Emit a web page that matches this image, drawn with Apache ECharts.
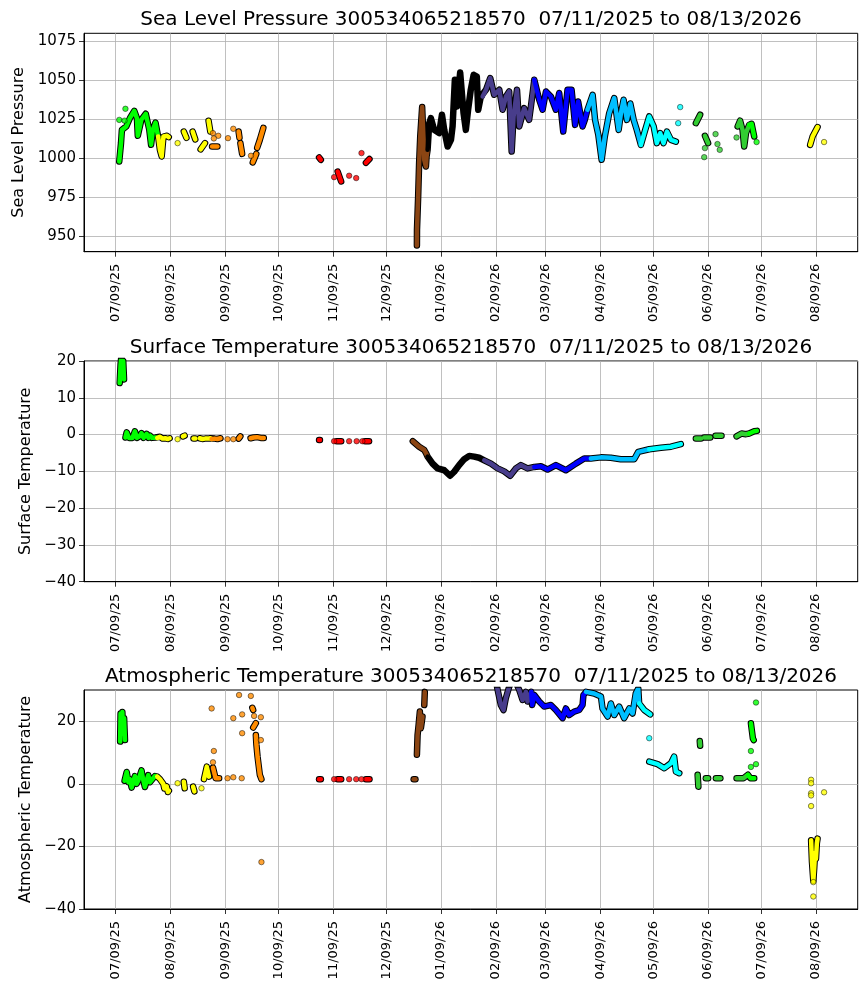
<!DOCTYPE html>
<html><head><meta charset="utf-8">
<script src="https://cdn.jsdelivr.net/npm/echarts@6/dist/echarts.min.js"></script>
<style>html,body{margin:0;padding:0;background:#fff}#c{width:867px;height:992px}</style>
</head><body><div id="c"></div>
<script>
const stationId = '300534065218570';
const dateRange = '07/11/2025 to 08/13/2026';
const panelNames = ['Sea Level Pressure', 'Surface Temperature', 'Atmospheric Temperature'];
const xTickDates = ['2025-07-09','2025-08-09','2025-09-09','2025-10-09','2025-11-09','2025-12-09','2026-01-09','2026-02-09','2026-03-09','2026-04-09','2026-05-09','2026-06-09','2026-07-09','2026-08-09'];
const slpTicks = [950, 975, 1000, 1025, 1050, 1075];
const sstTicks = [-40, -30, -20, -10, 0, 10, 20];
const atTicks = [-40, -20, 0, 20];

// Sea level pressure: dense traces (null = gap) and isolated points
const slpTrace = [
 ['2025-07-11 00',997.8],['2025-07-12 00',1009.6],['2025-07-12 12',1018.1],['2025-07-15 00',1020.3],['2025-07-17 00',1025.6],['2025-07-19 12',1030.3],['2025-07-21 00',1025.6],['2025-07-21 12',1014.3],['2025-07-23 12',1024.6],['2025-07-26 00',1028.4],['2025-07-28 00',1018.1],['2025-07-29 00',1008.5],['2025-07-30 00',1018.1],['2025-07-31 12',1022.8],['2025-08-02 00',1013.8],['2025-08-03 00',1005.3],['2025-08-04 00',1001],['2025-08-05 00',1013.8],['2025-08-07 00',1014.3],['2025-08-08 00',1013.5],
 null,['2025-08-16 12',1017],['2025-08-18 00',1013],
 null,['2025-08-21 12',1017],['2025-08-23 00',1012],
 null,['2025-08-26 00',1005.6],['2025-08-28 12',1009.6],
 null,['2025-08-30 12',1024],['2025-08-31 12',1017],
 null,['2025-09-01 12',1007.4],['2025-09-04 12',1007.4],
 null,['2025-09-16 12',1017],['2025-09-17 00',1013],
 null,['2025-09-17 12',1009.6],['2025-09-18 12',1002.7],
 null,['2025-09-24 12',997.2],['2025-09-26 12',1002.7],
 null,['2025-09-27 00',1006.6],['2025-09-28 12',1011.7],['2025-09-30 12',1019.4],
 null,['2025-11-01 00',1000.4],['2025-11-02 00',998.9],
 null,['2025-11-11 12',991.4],['2025-11-13 12',985],
 null,['2025-11-27 12',997],['2025-11-29 12',999.4],
 null,['2025-12-26 08',944],['2025-12-26 09',954],['2025-12-27 01',975.4],['2025-12-27 14',996.8],['2025-12-28 05',1013.8],['2025-12-29 07',1032.7],['2025-12-30 02',1011.7],['2025-12-30 11',998.9],['2025-12-31 10',994.6],['2025-12-31 19',1001],
 ['2026-01-01 09',1005.3],['2026-01-02 07',1022.4],['2026-01-03 05',1025.6],['2026-01-05 02',1018.1],['2026-01-07 22',1016],['2026-01-09 12',1027.8],['2026-01-10 19',1018],['2026-01-12 17',1007.4],['2026-01-14 14',1011.7],['2026-01-15 12',1020.3],['2026-01-16 19',1050.2],['2026-01-17 22',1033],['2026-01-19 19',1054.9],['2026-01-21 17',1028.8],['2026-01-23 00',1018.1],['2026-01-24 07',1031],['2026-01-25 19',1043.8],['2026-01-27 10',1053.4],['2026-01-29 05',1052.3],['2026-01-30 00',1031],['2026-01-31 12',1039.5],
 ['2026-02-01 12',1039.5],['2026-02-03 12',1044],['2026-02-05 19',1051.3],['2026-02-08 00',1040.6],['2026-02-10 22',1043.8],['2026-02-12 19',1031],['2026-02-14 17',1039.5],['2026-02-16 12',1042.7],['2026-02-17 22',1004.2],['2026-02-19 00',1026.7],['2026-02-20 22',1043.8],['2026-02-22 05',1020.3],['2026-02-25 00',1032],['2026-02-27 19',1024.5],['2026-02-28 19',1033],
 ['2026-03-02 17',1050.2],['2026-03-05 12',1037.4],['2026-03-07 10',1031],['2026-03-09 07',1042.7],['2026-03-12 02',1039.5],['2026-03-14 22',1031],['2026-03-16 19',1041.7],['2026-03-19 02',1017],['2026-03-21 12',1043.8],['2026-03-23 19',1043.8],['2026-03-25 19',1021.3],['2026-03-27 12',1036.3],['2026-03-30 00',1020.3],['2026-03-31 07',1024.5],
 ['2026-04-01 19',1031],['2026-04-04 17',1040.6],['2026-04-06 02',1024.5],['2026-04-07 22',1015],['2026-04-09 19',998.9],['2026-04-11 14',1013.8],['2026-04-14 02',1028.8],['2026-04-16 22',1038.5],['2026-04-19 10',1018.1],['2026-04-20 17',1028.8],['2026-04-22 05',1037.4],['2026-04-24 02',1024.5],['2026-04-26 00',1035],['2026-04-27 22',1024.5],['2026-04-29 17',1018],
 ['2026-05-02 00',1008.5],['2026-05-04 10',1018],['2026-05-06 17',1026.7],['2026-05-09 05',1020.3],['2026-05-11 00',1009.6],['2026-05-12 22',1016],['2026-05-14 19',1009.6],['2026-05-16 17',1017],['2026-05-19 00',1011.7],['2026-05-21 19',1010.6],
 null,['2026-06-02 02',1022.4],['2026-06-04 12',1027.8],
 null,['2026-06-07 05',1014.3],['2026-06-09 00',1009.6],
 null,['2026-06-25 17',1020.3],['2026-06-27 02',1024],['2026-06-28 12',1018],['2026-06-29 10',1007.4],['2026-06-30 10',1016],['2026-07-02 05',1021.3],['2026-07-03 14',1022],['2026-07-05 02',1013.8],
 null,['2026-08-05 17',1008.5],['2026-08-07 02',1013.8],['2026-08-09 22',1019.9]
];
const slpPoints = [
 ['2025-07-11 00',1024.5],['2025-07-14 12',1031.6],['2025-07-14 00',1024],['2025-08-13 00',1009.6],['2025-09-02 00',1016],['2025-09-05 00',1014.3],['2025-09-02 12',1012.6],['2025-09-10 12',1012.8],['2025-09-13 12',1018.8],['2025-09-23 12',1001.5],
 ['2025-11-09 12',987.8],['2025-11-18 00',988.7],['2025-11-22 00',987.2],['2025-11-25 00',1003.2],['2026-05-23 02',1022.4],['2026-05-24 05',1032.7],
 ['2026-06-06 19',1000.6],['2026-06-07 05',1006.4],['2026-06-13 05',1015.4],['2026-06-14 07',1009],['2026-06-15 14',1005.3],['2026-06-25 02',1013.2],['2026-07-06 10',1010.3],['2026-08-13 14',1010.3]
];

// Surface temperature
const sstTrace = [
 ['2025-07-11 06',14.0],['2025-07-11 18',19],['2025-07-12 06',21.5],['2025-07-12 18',16.5],['2025-07-13 06',20],['2025-07-13 17',15],
 null,['2025-07-14 12',-0.8],['2025-07-15 05',0.6],['2025-07-16 12',-0.9],['2025-07-17 12',-0.4],['2025-07-18 12',-0.9],['2025-07-19 20',0.9],['2025-07-21 00',-0.9],['2025-07-22 12',-0.5],['2025-07-23 14',0.4],['2025-07-24 18',-0.9],['2025-07-26 12',0.2],['2025-07-27 12',-0.9],['2025-07-28 12',-0.3],['2025-07-29 12',-0.9],['2025-07-30 12',-0.6],['2025-07-31 12',-0.8],['2025-08-01 12',-0.9],['2025-08-03 00',-0.6],['2025-08-04 12',-1.1],['2025-08-06 00',-1.0],['2025-08-07 12',-1.2],['2025-08-08 12',-1.0],
 null,['2025-08-16 00',-0.5],['2025-08-17 00',-0.3],
 null,['2025-08-22 00',-1.1],['2025-08-23 00',-1.1],
 null,['2025-08-25 12',-1.0],['2025-08-27 00',-1.2],['2025-08-28 12',-1.1],['2025-08-30 00',-1.1],['2025-08-31 12',-1.0],['2025-09-01 06',-1.2],['2025-09-03 00',-1.1],['2025-09-04 12',-1.2],['2025-09-06 06',-1.0],
 null,['2025-09-16 12',-1.1],['2025-09-17 12',-0.5],
 null,['2025-09-23 06',-1.0],['2025-09-25 00',-0.8],['2025-09-27 00',-0.7],['2025-09-29 00',-0.9],['2025-09-30 18',-0.9],
 null,['2025-11-01 00',-1.5],['2025-11-01 12',-1.5],
 null,['2025-11-11 00',-1.8],['2025-11-13 12',-1.8],
 null,['2025-11-27 00',-1.8],['2025-11-29 06',-1.8],
 null,['2025-12-24 00',-1.8],['2025-12-27 14',-3.3],['2025-12-30 12',-4.2],['2025-12-31 10',-5.0],['2026-01-01 09',-6.0],['2026-01-04 05',-7.9],['2026-01-07 00',-9.2],['2026-01-10 19',-9.7],['2026-01-14 02',-11.2],['2026-01-16 10',-10.1],['2026-01-19 05',-8.3],['2026-01-22 02',-6.7],['2026-01-24 22',-5.8],['2026-01-27 17',-6.0],['2026-01-30 12',-6.3],
 ['2026-02-02 10',-7.0],['2026-02-06 05',-7.9],['2026-02-10 00',-9.2],['2026-02-13 17',-10],['2026-02-17 02',-11.2],['2026-02-20 07',-9.2],['2026-02-23 02',-8.3],['2026-02-26 22',-9.2],
 ['2026-03-02 17',-8.8],['2026-03-06 10',-8.6],['2026-03-10 05',-9.5],['2026-03-14 22',-8.3],['2026-03-20 14',-9.7],['2026-03-26 05',-7.9],['2026-03-30 22',-6.5],
 ['2026-04-03 17',-6.5],['2026-04-09 10',-6.2],['2026-04-15 00',-6.3],['2026-04-20 14',-6.7],['2026-04-28 05',-6.7],['2026-04-30 12',-4.7],
 ['2026-05-06 17',-4.0],['2026-05-13 07',-3.6],['2026-05-19 00',-3.3],['2026-05-24 14',-2.6],
 null,['2026-06-02 02',-1.1],['2026-06-05 00',-1.1],
 null,['2026-06-06 19',-0.8],['2026-06-10 05',-0.8],
 null,['2026-06-13 05',-0.3],['2026-06-16 14',-0.3],
 null,['2026-06-25 02',-0.5],['2026-06-27 22',0.3],['2026-06-30 10',0.1],['2026-07-02 05',0.3],['2026-07-05 02',0.9],['2026-07-06 14',1.0]
];
const sstPoints = [
 ['2025-08-13 00',-1.25],['2025-09-10 06',-1.25],['2025-09-13 12',-1.25],['2025-11-09 12',-1.8],['2025-11-18 00',-1.8],['2025-11-22 06',-1.8],['2025-11-25 12',-1.8]
];

// Atmospheric temperature
const atTrace = [
 ['2025-07-11 12',13.5],['2025-07-11 18',22.5],['2025-07-12 06',19],['2025-07-12 18',23],['2025-07-13 06',16],['2025-07-13 18',21],['2025-07-14 06',14],
 null,['2025-07-14 00',1.0],['2025-07-15 05',3.8],['2025-07-16 06',0.5],['2025-07-17 00',1.5],['2025-07-18 00',-1.2],['2025-07-19 20',2.5],['2025-07-20 18',0.0],['2025-07-21 17',1.0],['2025-07-23 14',4.3],['2025-07-24 12',1.5],['2025-07-25 12',-1.0],['2025-07-27 10',2.8],['2025-07-28 08',0.5],['2025-07-29 07',0.0],['2025-07-31 05',2.5],['2025-08-01 12',2.3],['2025-08-03 00',1.5],['2025-08-04 22',0.0],['2025-08-05 12',-1.5],['2025-08-06 20',-0.8],['2025-08-07 12',-2.6],['2025-08-08 02',-2.2],
 null,['2025-08-16 12',0.7],['2025-08-17 00',-1.4],
 null,['2025-08-21 18',-0.9],['2025-08-22 12',-2.4],
 null,['2025-08-27 22',1.5],['2025-08-29 12',5.5],['2025-08-30 18',2.3],
 null,['2025-09-02 00',5.2],['2025-09-03 00',2.9],['2025-09-03 12',1.8],['2025-09-05 12',1.8],
 null,['2025-09-24 06',24.3],['2025-09-24 18',23.6],
 null,['2025-09-24 18',18],['2025-09-26 06',19.4],
 null,['2025-09-26 06',15.6],['2025-09-26 14',12.4],['2025-09-27 05',8.7],['2025-09-27 22',5.5],['2025-09-28 12',2.9],['2025-09-29 10',1.5],
 null,['2025-11-01 00',1.5],['2025-11-02 00',1.5],
 null,['2025-11-11 12',1.5],['2025-11-13 12',1.5],
 null,['2025-11-27 12',1.5],['2025-11-29 12',1.5],
 null,['2025-12-24 12',1.5],['2025-12-25 12',1.5],
 null,['2025-12-26 08',9.3],['2025-12-26 17',15.6],['2025-12-27 07',18.8],['2025-12-28 00',23.1],['2025-12-28 14',17.8],['2025-12-29 12',21.5],
 null,['2025-12-30 12',25.2],['2025-12-30 19',29.4],
 null,['2026-02-09 00',33],['2026-02-10 00',30],['2026-02-11 19',25.2],['2026-02-13 07',23.6],['2026-02-14 14',27.3],['2026-02-16 12',31],['2026-02-19 00',34],['2026-02-22 05',30],['2026-02-24 02',26.8],['2026-02-26 00',29.4],['2026-02-26 22',26.3],
 ['2026-03-01 00',29.4],['2026-03-01 12',25.2],['2026-03-02 17',28.4],['2026-03-05 12',26.3],['2026-03-08 07',24.7],['2026-03-12 02',25.2],['2026-03-14 22',23.6],['2026-03-18 17',21.0],['2026-03-20 14',24.1],['2026-03-22 10',22.0],['2026-03-25 07',23.1],['2026-03-28 02',23.6],['2026-03-30 00',25.2],['2026-03-30 12',28.4],
 ['2026-04-01 00',29.4],['2026-04-05 14',28.9],['2026-04-09 10',27.9],['2026-04-10 07',24.1],['2026-04-13 05',21.5],['2026-04-15 00',25.7],['2026-04-16 22',22],['2026-04-19 17',24.7],['2026-04-22 12',21.0],['2026-04-25 10',24.1],['2026-04-27 07',22.5],['2026-04-29 02',28.9],['2026-04-30 12',30.5],
 ['2026-05-01 00',25.7],['2026-05-03 22',23.6],['2026-05-07 07',22.2],
 null,['2026-05-06 17',7.1],['2026-05-11 10',6.3],['2026-05-15 05',5.0],['2026-05-19 00',6.6],['2026-05-20 19',8.7],['2026-05-21 19',3.9],['2026-05-23 17',3.4],
 null,['2026-06-04 07',13.7],['2026-06-04 12',12.2],
 null,['2026-06-03 02',2.9],['2026-06-03 12',-0.9],
 null,['2026-06-07 17',1.8],['2026-06-09 00',1.8],
 null,['2026-06-13 10',1.8],['2026-06-15 22',1.8],
 null,['2026-06-25 02',1.8],['2026-06-29 00',1.8],['2026-07-01 12',2.9],['2026-07-03 00',1.8],['2026-07-05 02',1.8],
 null,['2026-07-03 05',19.4],['2026-07-03 18',17],['2026-07-04 08',14.5],['2026-07-04 19',14.0],
 null,['2026-08-06 06',-18],['2026-08-06 18',-25],['2026-08-07 06',-29],['2026-08-07 12',-31],['2026-08-08 00',-27],['2026-08-08 12',-22],['2026-08-09 00',-24],['2026-08-09 12',-19],['2026-08-09 22',-17.5]
];
const atPoints = [
 ['2025-08-13 00',0.2],['2025-08-26 12',-1.4],['2025-09-02 00',6.9],['2025-09-02 12',10.5],['2025-09-01 06',24.1],['2025-09-10 06',1.8],['2025-09-13 12',2.1],['2025-09-18 06',1.8],['2025-09-13 12',21.0],['2025-09-16 18',28.4],['2025-09-18 12',22.2],['2025-09-18 12',16.2],['2025-09-23 10',28.1],['2025-09-25 06',21.7],['2025-09-29 02',21.3],['2025-09-29 02',14.0],['2025-09-29 10',-25.0],
 ['2025-11-09 12',1.5],['2025-11-18 00',1.5],['2025-11-22 00',1.5],['2025-11-25 00',1.5],['2026-05-06 17',14.6],['2026-07-06 02',26.0],['2026-07-03 05',10.5],['2026-07-03 05',5.4],['2026-07-06 02',6.3],
 ['2026-08-06 06',1.3],['2026-08-06 06',0.2],['2026-08-06 06',-3.0],['2026-08-06 06',-3.7],['2026-08-06 06',-7.1],['2026-08-07 12',-31.4],['2026-08-07 12',-36.0],['2026-08-13 14',-2.7]
];

const monthColor = {
 '2025-07':'#00ff00','2025-08':'#ffff00','2025-09':'#ff8c00','2025-10':'#800080','2025-11':'#ff0000','2025-12':'#8b4513',
 '2026-01':'#000000','2026-02':'#483d8b','2026-03':'#0000ff','2026-04':'#00bfff','2026-05':'#00ffff','2026-06':'#32cd32',
 '2026-07':'#00ff00','2026-08':'#ffff00'
};

function parseT(s){ const parts=s.split(' '); const d=parts[0].split('-').map(Number); return Date.UTC(d[0],d[1]-1,d[2],Number(parts[1]||0)); }
function mKey(s){ return s.slice(0,7); }
const DAY = 864e5;
const xMin = Date.UTC(2025,6,9) - 17.93*DAY;
const xMax = Date.UTC(2025,6,9) + 419.6*DAY;
const xTicks = xTickDates.map(s=>parseT(s));
function fmtDate(v){ const d=new Date(v); const p=n=>String(n).padStart(2,'0'); return p(d.getUTCMonth()+1)+'/'+p(d.getUTCDate())+'/'+p(d.getUTCFullYear()%100); }
function fmtNum(v){ return v<0 ? '\u2212'+Math.abs(v) : String(v); }

function buildSeries(trace, points, gi){
  const out=[]; const runs=[]; let cur=[];
  trace.forEach(p=>{ if(p===null){ if(cur.length) runs.push(cur); cur=[]; } else cur.push(p); });
  if(cur.length) runs.push(cur);
  const pts = points.slice();
  runs.forEach(run=>{
    if(run.length===1){ pts.push(run[0]); return; }
    out.push({type:'line', xAxisIndex:gi, yAxisIndex:gi, data: run.map(p=>[parseT(p[0]),p[1]]), showSymbol:false, silent:true,
      lineStyle:{color:'#000', width:6.5, cap:'round', join:'round'}, z:2});
    let i=0;
    while(i<run.length){
      const key=mKey(run[i][0]); const seg=[];
      while(i<run.length && mKey(run[i][0])===key){ seg.push(run[i]); i++; }
      if(i<run.length) seg.push(run[i]);
      if(seg.length<2){ pts.push(seg[0]); continue; }
      out.push({type:'line', xAxisIndex:gi, yAxisIndex:gi, data: seg.map(p=>[parseT(p[0]),p[1]]), showSymbol:false, silent:true,
        lineStyle:{color:monthColor[key], width:4.5, cap:'round', join:'round'}, z:3});
    }
  });
  out.push({type:'scatter', xAxisIndex:gi, yAxisIndex:gi, symbolSize:5.5, silent:true, z:4,
    itemStyle:{borderColor:'#000', borderWidth:0.6},
    data: pts.map(p=>({value:[parseT(p[0]),p[1]], itemStyle:{color:monthColor[mKey(p[0])]}}))});
  return out;
}

const grids = [
  {left:84, right:9.3, top:33.3, height:218.4},
  {left:84, right:9.3, top:361, height:220.7},
  {left:84, right:9.3, top:690, height:219}
].map(g=>Object.assign(g,{show:true, borderColor:'#000', borderWidth:1, backgroundColor:'transparent', containLabel:false}));

const gridLine = {show:true, lineStyle:{color:'#b0b0b0', width:0.8}};
const xAxes = [0,1,2].map(i=>({
  type:'value', gridIndex:i, min:xMin, max:xMax,
  axisLine:{show:true, onZero:false, lineStyle:{color:'#000', width:1}},
  axisTick:{show:true, length:5, lineStyle:{color:'#000', width:0.8}, customValues:xTicks},
  axisLabel:{customValues:xTicks, rotate:90, fontSize:13, color:'#000', margin:12, formatter:fmtDate},
  splitLine:gridLine
}));
const yCfg = [
  {min:940, max:1080, ticks:slpTicks, gap:57},
  {min:-40, max:20, ticks:sstTicks, gap:50},
  {min:-40, max:30, ticks:atTicks, gap:50}
];
const yAxes = yCfg.map((c,i)=>({
  type:'value', gridIndex:i, min:c.min, max:c.max,
  name:panelNames[i], nameLocation:'middle', nameRotate:90, nameGap:c.gap,
  nameTextStyle:{fontSize:16, color:'#000'},
  axisLine:{show:true, lineStyle:{color:'#000', width:1}},
  axisTick:{show:true, length:5, lineStyle:{color:'#000', width:0.8}, customValues:c.ticks},
  axisLabel:{customValues:c.ticks, fontSize:15, color:'#000', margin:8, formatter:fmtNum},
  splitLine:gridLine
}));
const titleTops = [5, 333, 662];
const titles = panelNames.map((n,i)=>({
  text: n+' '+stationId+'  '+dateRange, left:466, top:titleTops[i], textAlign:'center',
  textStyle:{fontSize:20, fontWeight:'normal', color:'#000'}
}));

const series = [].concat(
  buildSeries(slpTrace, slpPoints, 0),
  buildSeries(sstTrace, sstPoints, 1),
  buildSeries(atTrace, atPoints, 2)
);

const chart = echarts.init(document.getElementById('c'), null, {renderer:'canvas'});
chart.setOption({
  backgroundColor:'#fff', animation:false,
  textStyle:{fontFamily:'DejaVu Sans'},
  title:titles, grid:grids, xAxis:xAxes, yAxis:yAxes, series:series
});
</script></body></html>
